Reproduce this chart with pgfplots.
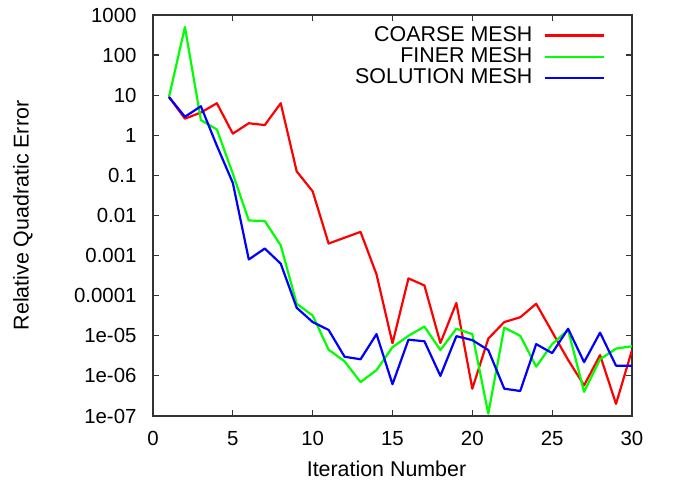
\documentclass[border=0pt]{standalone}
\usepackage{fontspec}
\setmainfont{Liberation Sans}
\usepackage{pgfplots}
\pgfplotsset{compat=1.18}
\definecolor{coarse}{RGB}{255,0,0}
\definecolor{finer}{RGB}{0,255,0}
\definecolor{solmesh}{RGB}{0,0,255}

\begin{document}
\fontsize{10.7}{12.8}\selectfont
\begin{tikzpicture}
\useasboundingbox (0,0) rectangle (338pt,241pt);
\begin{axis}[
    at={(76.5pt,33pt)}, anchor=south west,
    scale only axis,
    width=239.5pt, height=200.5pt,
    ymode=log,
    xmin=0, xmax=30, ymin=1e-7, ymax=1000,
    xtick={0,5,...,30},
    ytick={1e-7,1e-6,1e-5,1e-4,1e-3,1e-2,1e-1,1,10,100,1000},
    yticklabels={1e-07,1e-06,1e-05,0.0001,0.001,0.01,0.1,1,10,100,1000},
    yminorticks=false, xminorticks=false,
    /pgf/number format/assume math mode=true,
    tick align=inside,
    major tick length=3pt,
    axis line style={black!80, line width=0.8pt},
    every tick/.style={black!80, line width=0.6pt},
    tick label style={font=\fontsize{10.2}{12.2}\selectfont},
    yticklabel style={xshift=-4.5pt},
    xticklabel style={yshift=-4pt},
    xlabel={Iteration Number},
    ylabel={Relative Quadratic Error},
    label style={font=\fontsize{10.7}{12.8}\selectfont},
    every axis x label/.style={at={(axis description cs:0.5,0)}, anchor=center,
      yshift=-26.5pt, xshift=-3pt},
    every axis y label/.style={at={(axis description cs:0,0.5)}, anchor=center,
      rotate=90, yshift=65pt},
    legend style={draw=none, fill=none, at={(rel axis cs:1,1)}, anchor=north east,
      xshift=-10pt, yshift=-1.5pt, row sep=-2.5pt,
      font=\fontsize{10.7}{12.8}\selectfont},
    legend cell align=right,
    legend plot pos=right,
    legend image code/.code={\path (0pt,0pt); \draw[#1] (4pt,0pt) -- (33.5pt,0pt);},
    every axis plot/.append style={line width=1.1pt, line join=round},
]
\addplot[coarse] coordinates {
 (1,9) (2,2.6) (3,3.7) (4,6.3) (5,1.1) (6,2.0) (7,1.8) (8,6.3) (9,0.126) (10,0.04)
 (11,0.002) (12,0.0028) (13,0.0039) (14,3.4e-4) (15,6.5e-6) (16,2.7e-4) (17,1.8e-4)
 (18,6.6e-6) (19,6.6e-5) (20,4.8e-7) (21,8.5e-6) (22,2.2e-5) (23,2.9e-5) (24,6.3e-5)
 (25,1.25e-5) (26,2.5e-6) (27,5.8e-7) (28,3.3e-6) (29,2e-7) (30,4.4e-6)};
\addplot[finer] coordinates {
 (1,9) (2,500) (3,2.4) (4,1.4) (5,0.11) (6,0.0075) (7,0.0073) (8,0.0018) (9,6.3e-5)
 (10,3.2e-5) (11,4.5e-6) (12,2.3e-6) (13,7e-7) (14,1.4e-6) (15,5.2e-6) (16,1.0e-5)
 (17,1.7e-5) (18,4.4e-6) (19,1.5e-5) (20,1.1e-5) (21,1.15e-7) (22,1.6e-5) (23,1.0e-5)
 (24,1.7e-6) (25,6.2e-6) (26,1.4e-5) (27,4e-7) (28,2.6e-6) (29,4.8e-6) (30,5.5e-6)};
\addplot[solmesh] coordinates {
 (1,9) (2,2.9) (3,5.3) (4,0.55) (5,0.065) (6,8e-4) (7,1.5e-3) (8,6.3e-4) (9,5e-5)
 (10,2.2e-5) (11,1.4e-5) (12,3e-6) (13,2.6e-6) (14,1.1e-5) (15,6.2e-7) (16,8e-6)
 (17,7.3e-6) (18,1e-6) (19,9.8e-6) (20,7.8e-6) (21,4.4e-6) (22,4.8e-7) (23,4.2e-7)
 (24,6.2e-6) (25,3.7e-6) (26,1.5e-5) (27,2.2e-6) (28,1.2e-5) (29,1.8e-6) (30,1.8e-6)};
\legend{COARSE MESH, FINER MESH, SOLUTION MESH}
\end{axis}
\end{tikzpicture}
\end{document}
